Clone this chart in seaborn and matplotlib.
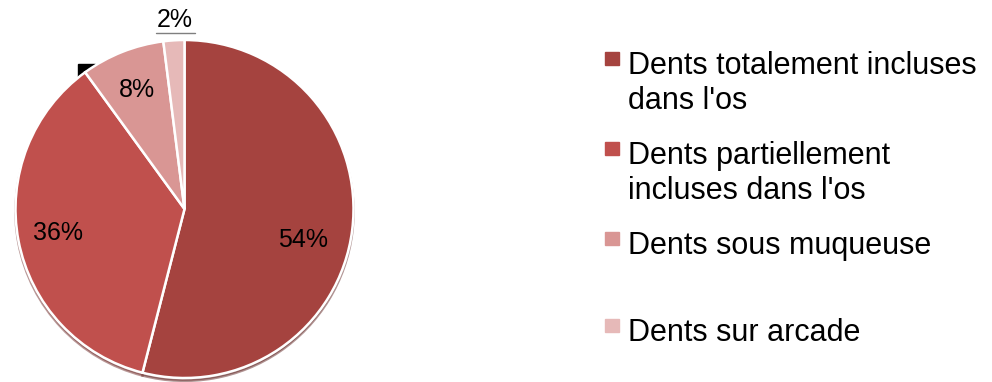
import numpy as np
import seaborn as sns
import matplotlib.pyplot as plt
from matplotlib.patches import Rectangle

# data
categories = ["Dents totalement incluses\ndans l'os",
              "Dents partiellement\nincluses dans l'os",
              "Dents sous muqueuse",
              "Dents sur arcade"]
shares = [54, 36, 8, 2]
colors = ["#A5433F", "#C0504D", "#D99694", "#E6B9B8"]

sns.set_theme(style="white")
plt.rcParams['font.family'] = ['Liberation Sans', 'DejaVu Sans']

W, H = 992, 382
fig = plt.figure(figsize=(W / 100, H / 100), dpi=100)

# small dark block peeking behind the pie (as in the source)
fig.patches.append(Rectangle((78 / W, 1 - 80 / H), 17 / W, 16 / H,
                             transform=fig.transFigure, color="black", zorder=-1))

ax = fig.add_axes([15 / W, 4 / H, 339 / W, 338 / H])
ax.set_zorder(1)
wedges, texts, autotexts = ax.pie(
    shares, colors=colors, startangle=90, counterclock=False,
    autopct='%1.0f%%', pctdistance=0.76,
    wedgeprops=dict(edgecolor="white", linewidth=1.8),
    shadow=dict(ox=0.0, oy=-0.012, shade=0.4),
    textprops=dict(fontsize=18, color="black"))
ax.set_xlim(-1, 1)
ax.set_ylim(-1, 1)
ax.set_aspect('equal')
ax.axis('off')

# nudge the big slice label a bit lower, like the source layout
x0, y0 = autotexts[0].get_position()
autotexts[0].set_position((x0 - 0.05, y0 - 0.09))

# the tiny slice gets its label outside, underlined
w = wedges[-1]
ang = np.deg2rad((w.theta1 + w.theta2) / 2)
lx, ly = 1.125 * np.cos(ang), 1.123 * np.sin(ang)
autotexts[-1].set_position((lx + 0.01, ly))
ax.plot([lx - 0.1, lx + 0.13], [1.041, 1.041], color="#7F7F7F", lw=1, clip_on=False)

# legend drawn by hand so the key sits on the first line
baselines = [72, 162, 252, 339]
for lab, col, yb in zip(categories, colors, baselines):
    fig.patches.append(Rectangle((605 / W, 1 - (yb - 7) / H), 14 / W, 13 / H,
                                 transform=fig.transFigure, color=col))
    fig.text(628 / W, 1 - (yb - 21) / H, lab, fontsize=22, va='top', ha='left',
             linespacing=1.2, color="black")

fig.savefig("out.png", dpi=100)
